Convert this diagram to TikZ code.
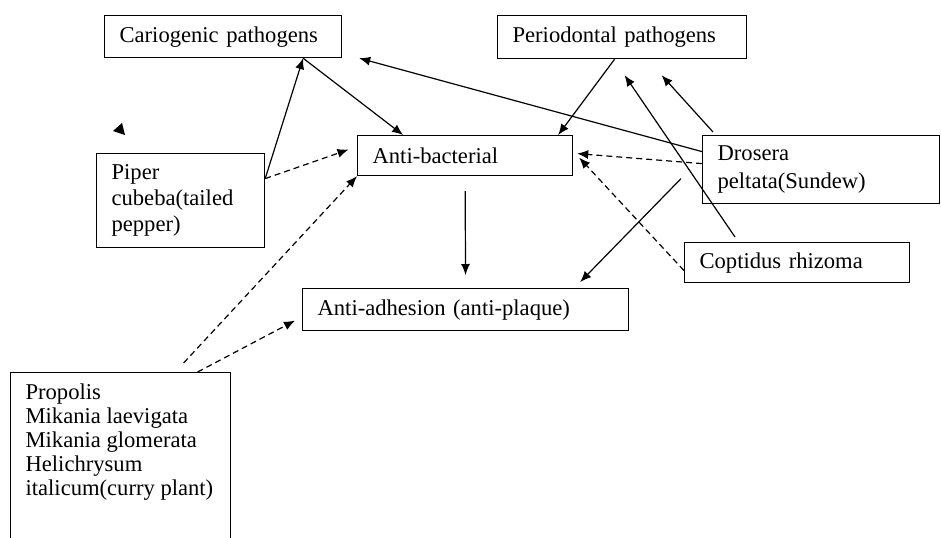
\documentclass[tikz,border=0pt]{standalone}
\usepackage{fontspec}
\setmainfont{Liberation Serif}
\usepackage{tikz}
\usetikzlibrary{arrows.meta}
\usetikzlibrary{positioning}

\tikzset{
  box/.style={draw, line width=0.6pt, rectangle, anchor=north west, align=left,
    inner xsep=7.5pt, inner ysep=0pt, font=\fontsize{11.3}{13}\selectfont},
  link/.style={->, line width=0.6pt},
  dlink/.style={link, dash pattern=on 3pt off 2pt}
}

\begin{document}
\begin{tikzpicture}[x=0.5pt, y=-0.5pt, >={Latex[length=5.5pt,width=4.5pt]}]
    \useasboundingbox (0, 0) rectangle (941, 537);
    \clip (0, 0) rectangle (941, 537);

    \node [box, text width=103.5pt, minimum height=21pt] (cario) at (104, 15) {Cariogenic pathogens};
    \node [box, text width=109.5pt, minimum height=21.5pt] (perio) at (497, 15) {Periodontal pathogens};
    \node [box, text width=92.5pt, minimum height=20pt] (bact) at (357, 135) {Anti-bacterial};
    \node [box, text width=69pt, minimum height=47pt] (piper) at (96, 153) {Piper\\cubeba(tailed\\pepper)};
    \node [box, text width=103.5pt, minimum height=34pt, font=\fontsize{11.3}{14}\selectfont] (drosera) at (702, 135) {Drosera\\peltata(Sundew)};
    \node [box, text width=97.5pt, minimum height=20pt] (coptis) at (684, 242) {Coptidus rhizoma};
    \node [box, text width=148pt, minimum height=21pt] (adhes) at (302, 288) {Anti-adhesion (anti-plaque)};
    \node [box, inner ysep=5.5pt, font=\fontsize{11.3}{12}\selectfont] (propolis) at (10, 372)
      {\parbox[t][100pt][t]{95pt}{Propolis\\Mikania laevigata\\Mikania glomerata\\Helichrysum\\italicum(curry plant)}};

    \fill (113, 131) -- (122, 123) -- (125, 135) -- cycle;

    \draw [link] ([yshift=11pt]piper.east) -- ([xshift=40pt]cario.south);
    \draw [link] ([xshift=40pt]cario.south) -- ([xshift=-31pt]bact.north);
    \draw [dlink, shorten >=4.5pt] ([yshift=11pt]piper.east) -- ([yshift=4.5pt]bact.west);
    \draw [dlink] ([xshift=31.5pt, yshift=4.5pt]propolis.north) -- (bact.south west);
    \draw [dlink] ([xshift=38.5pt]propolis.north) -- ([xshift=-3.5pt, yshift=-5.5pt]adhes.west);
    \draw [link, shorten <=7.5pt, shorten >=6.5pt] (bact.south) -- (adhes.north);
    \draw [link] ([xshift=-3.75pt]perio.south) -- ([xshift=-7.5pt]bact.north east);
    \draw [link] ([yshift=9pt]drosera.west) -- ([xshift=8.5pt]cario.south east);
    \draw [link] ([xshift=5.5pt, yshift=1.5pt]drosera.north west) -- ([xshift=19.75pt, yshift=-8pt]perio.south);
    \draw [link] ([xshift=25.5pt, yshift=2.5pt]coptis.north west) -- ([xshift=1.25pt, yshift=-8pt]perio.south);
    \draw [dlink] ([yshift=3pt]drosera.west) -- ([xshift=2pt, yshift=1pt]bact.east);
    \draw [dlink] ([yshift=-4pt]coptis.west) -- ([xshift=3pt, yshift=-1pt]bact.east);
    \draw [link] ([xshift=-10.5pt, yshift=-4.5pt]drosera.west) -- ([xshift=-24.5pt, yshift=3pt]adhes.north east);
\end{tikzpicture}
\end{document}
